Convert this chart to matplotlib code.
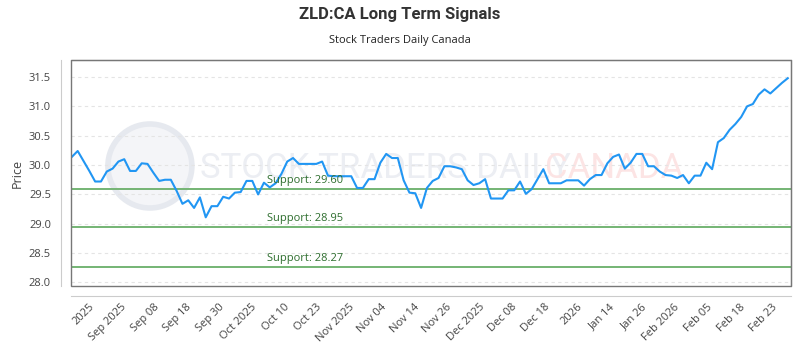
import numpy as np
import matplotlib
matplotlib.use("Agg")
import matplotlib.pyplot as plt
from matplotlib.patches import Rectangle, Ellipse

plt.rcParams['font.family'] = ['Open Sans', 'DejaVu Sans']

# closing prices, one per trading day
prices = [30.14, 30.24, 30.07, 29.90, 29.72, 29.72, 29.89, 29.94, 30.06, 30.10,
          29.90, 29.90, 30.03, 30.02, 29.87, 29.73, 29.75, 29.75, 29.56, 29.34,
          29.40, 29.27, 29.45, 29.11, 29.30, 29.30, 29.46, 29.43, 29.53, 29.54,
          29.73, 29.73, 29.50, 29.70, 29.62, 29.69, 29.85, 30.06, 30.12, 30.02,
          30.02, 30.02, 30.02, 30.06, 29.82, 29.81, 29.81, 29.81, 29.81, 29.61,
          29.61, 29.76, 29.76, 30.04, 30.19, 30.12, 30.12, 29.74, 29.53, 29.52,
          29.27, 29.61, 29.73, 29.78, 29.98, 29.98, 29.96, 29.93, 29.74, 29.66,
          29.69, 29.76, 29.43, 29.43, 29.43, 29.57, 29.57, 29.72, 29.51, 29.59,
          29.76, 29.93, 29.69, 29.69, 29.69, 29.74, 29.74, 29.74, 29.65, 29.76,
          29.83, 29.83, 30.03, 30.14, 30.18, 29.94, 30.04, 30.19, 30.19, 29.98,
          29.98, 29.89, 29.83, 29.82, 29.78, 29.83, 29.69, 29.82, 29.82, 30.04,
          29.93, 30.39, 30.46, 30.60, 30.70, 30.82, 31.00, 31.04, 31.20, 31.29,
          31.22, 31.31, 31.40, 31.48]

tick_labels = ["2025", "Sep 2025", "Sep 08", "Sep 18", "Sep 30", "Oct 2025",
               "Oct 10", "Oct 23", "Nov 2025", "Nov 04", "Nov 14", "Nov 26",
               "Dec 2025", "Dec 08", "Dec 18", "2026", "Jan 14", "Jan 26",
               "Feb 2026", "Feb 05", "Feb 18", "Feb 23"]

supports = [29.60, 28.95, 28.27]
y_ticks = [28.0, 28.5, 29.0, 29.5, 30.0, 30.5, 31.0, 31.5]


def main():
    fig = plt.figure(figsize=(8, 3.5), dpi=100)
    ax = fig.add_axes([70.7 / 800, 64 / 350, 720 / 800, 226 / 350])

    # spines first: set_position resets the tick objects
    for side in ("top", "right"):
        ax.spines[side].set_color("#777777")
    for side in ("left", "bottom"):
        ax.spines[side].set_position(("outward", 7.2))
        ax.spines[side].set_color("#cccccc")
    ax.add_patch(Rectangle((0, 0), 1, 1, transform=ax.transAxes, fill=False,
                           edgecolor="#777777", lw=1, clip_on=False, zorder=4))

    # faint watermark, behind everything in the axes
    ax.add_patch(Ellipse((0.110, 0.531), 84 / 720, 84 / 226, transform=ax.transAxes,
                         facecolor="#f4f5f8", edgecolor="#e6e9ef", lw=4, zorder=0))
    wm_font = ["Liberation Sans Narrow", "Roboto", "DejaVu Sans"]
    ax.text(0.18, 0.522, "STOCK TRADERS DAILY", transform=ax.transAxes, color="#eceef3",
            fontsize=25, va="center", ha="left", zorder=0, family=wm_font)
    ax.text(0.659, 0.522, "CANADA", transform=ax.transAxes, color="#fce4e4",
            fontsize=25, va="center", ha="left", zorder=0, family=wm_font)

    x = np.arange(len(prices))
    ax.plot(x, prices, color="#2196f3", lw=1.5, zorder=3)

    for s in supports:
        ax.axhline(s, color="#74b474", lw=1.4, zorder=2)
        ax.annotate("Support: %.2f" % s, xy=(0.273, s), xycoords=("axes fraction", "data"),
                    xytext=(0, 2), textcoords="offset points", va="bottom", ha="left",
                    color="#2e6e2e", fontsize=8, zorder=3)

    ax.set_xlim(-0.2, 123.5)
    ax.set_ylim(27.94, 31.79)

    ax.set_yticks(y_ticks)
    ax.set_yticklabels(["%.1f" % v for v in y_ticks])
    ax.set_xticks(np.linspace(4.2, 121.6, len(tick_labels)))
    ax.set_xticklabels(tick_labels)

    ax.tick_params(axis="both", length=0, labelsize=8, colors="#444444")
    ax.tick_params(axis="y", pad=7)
    ax.tick_params(axis="x", pad=4, labelrotation=45)
    for lab in ax.get_xticklabels():
        lab.set_ha("right")

    ax.grid(axis="y", color="#e4e4e4", lw=0.8, linestyle=(0, (3, 3)), zorder=1)
    ax.set_axisbelow(True)

    ax.set_ylabel("Price", fontsize=9, color="#444444", labelpad=4)

    fig.text(0.5, 1 - 15 / 350, "ZLD:CA Long Term Signals", ha="center", va="center",
             fontsize=12, fontweight="bold", color="#333333", family=["Roboto", "DejaVu Sans"])
    fig.text(0.5, 1 - 40 / 350, "Stock Traders Daily Canada", ha="center", va="center",
             fontsize=8, color="#222222")

    fig.savefig("out.png", dpi=100)
    plt.close(fig)


if __name__ == "__main__":
    main()
